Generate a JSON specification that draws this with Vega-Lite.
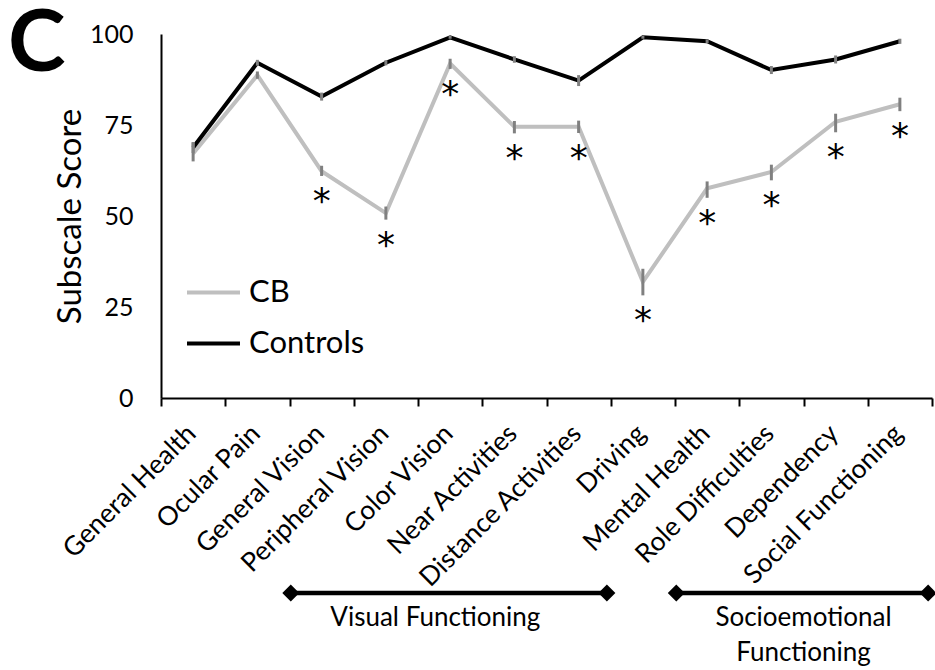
{
  "$schema": "https://vega.github.io/schema/vega-lite/v6.json",
  "width": 771,
  "height": 364,
  "autosize": {"type": "none"},
  "padding": {"left": 161, "top": 34, "right": 3, "bottom": 272},
  "title": {"text": "C", "anchor": "start", "frame": "group", "fontSize": 87, "fontWeight": "bold", "font": "Lato", "color": "black", "dx": -153, "dy": 12, "offset": -55, "baseline": "top"},
  "data": {"values": [
    {"category": "General Health", "group": "CB", "value": 67.2, "lo": 65.0, "hi": 70.2, "sig": ""},
    {"category": "Ocular Pain", "group": "CB", "value": 88.7, "lo": 87.7, "hi": 89.7, "sig": ""},
    {"category": "General Vision", "group": "CB", "value": 62.3, "lo": 61.0, "hi": 63.8, "sig": "*"},
    {"category": "Peripheral Vision", "group": "CB", "value": 50.8, "lo": 49.0, "hi": 52.6, "sig": "*"},
    {"category": "Color Vision", "group": "CB", "value": 91.9, "lo": 90.4, "hi": 93.2, "sig": "*"},
    {"category": "Near Activities", "group": "CB", "value": 74.5, "lo": 72.7, "hi": 76.1, "sig": "*"},
    {"category": "Distance Activities", "group": "CB", "value": 74.5, "lo": 72.8, "hi": 76.2, "sig": "*"},
    {"category": "Driving", "group": "CB", "value": 31.9, "lo": 28.2, "hi": 35.5, "sig": "*"},
    {"category": "Mental Health", "group": "CB", "value": 57.6, "lo": 55.0, "hi": 59.5, "sig": "*"},
    {"category": "Role Difficulties", "group": "CB", "value": 62.1, "lo": 59.8, "hi": 64.1, "sig": "*"},
    {"category": "Dependency", "group": "CB", "value": 75.9, "lo": 73.0, "hi": 78.1, "sig": "*"},
    {"category": "Social Functioning", "group": "CB", "value": 80.7, "lo": 78.8, "hi": 82.5, "sig": "*"},
    {"category": "General Health", "group": "Controls", "value": 68.8, "lo": 67.3, "hi": 70.3, "sig": ""},
    {"category": "Ocular Pain", "group": "Controls", "value": 92.1, "lo": 91.3, "hi": 92.9, "sig": ""},
    {"category": "General Vision", "group": "Controls", "value": 82.8, "lo": 81.7, "hi": 83.9, "sig": ""},
    {"category": "Peripheral Vision", "group": "Controls", "value": 92.1, "lo": 91.4, "hi": 92.8, "sig": ""},
    {"category": "Color Vision", "group": "Controls", "value": 99.1, "lo": 98.7, "hi": 99.5, "sig": ""},
    {"category": "Near Activities", "group": "Controls", "value": 93.0, "lo": 92.1, "hi": 93.9, "sig": ""},
    {"category": "Distance Activities", "group": "Controls", "value": 87.2, "lo": 85.7, "hi": 88.7, "sig": ""},
    {"category": "Driving", "group": "Controls", "value": 99.1, "lo": 98.7, "hi": 99.5, "sig": ""},
    {"category": "Mental Health", "group": "Controls", "value": 98.0, "lo": 97.5, "hi": 98.5, "sig": ""},
    {"category": "Role Difficulties", "group": "Controls", "value": 90.1, "lo": 89.0, "hi": 91.2, "sig": ""},
    {"category": "Dependency", "group": "Controls", "value": 93.0, "lo": 91.9, "hi": 94.1, "sig": ""},
    {"category": "Social Functioning", "group": "Controls", "value": 98.0, "lo": 97.3, "hi": 98.7, "sig": ""}
  ]},
  "layer": [
    {
      "mark": {"type": "line", "strokeWidth": 4},
      "encoding": {
        "x": {"field": "category", "type": "nominal", "bandPosition": 0.5,
              "scale": {"type": "band", "paddingInner": 0, "paddingOuter": 0, "domain": ["General Health", "Ocular Pain", "General Vision", "Peripheral Vision", "Color Vision", "Near Activities", "Distance Activities", "Driving", "Mental Health", "Role Difficulties", "Dependency", "Social Functioning"]},
              "axis": {"title": null, "tickBand": "extent", "ticks": true, "tickSize": 8, "tickWidth": 2, "tickColor": "black", "domainColor": "black", "domainWidth": 2, "labelAngle": -45, "labelAlign": "right", "labelBaseline": "top", "labelFontSize": 26.5, "labelPadding": 14, "labelOffset": -11, "labelLimit": 0, "labelColor": "black", "labelFont": "Lato"}},
        "y": {"field": "value", "type": "quantitative", "scale": {"domain": [0, 100], "nice": false, "zero": false},
              "axis": {"values": [0, 25, 50, 75, 100], "grid": false, "ticks": false, "domainColor": "black", "domainWidth": 2, "labelFontSize": 25, "labelPadding": 28, "labelColor": "black", "labelFont": "Lato", "title": "Subscale Score", "titleFontSize": 33, "titleFontWeight": "normal", "titleFont": "Lato", "titleColor": "black", "titlePadding": 2}},
        "color": {"field": "group", "type": "nominal", "scale": {"domain": ["CB", "Controls"], "range": ["#BFBFBF", "#000000"]},
                  "legend": {"title": null, "orient": "none", "legendX": 37, "legendY": 243, "labelFontSize": 31, "labelFont": "Lato", "labelColor": "black", "symbolType": "M-2,0H2", "symbolSize": 702, "symbolStrokeWidth": 4, "labelOffset": 20, "rowPadding": 19}}
      }
    },
    {
      "mark": {"type": "rule", "strokeWidth": 3, "color": "#808080"},
      "encoding": {
        "x": {"field": "category", "type": "nominal", "bandPosition": 0.5},
        "y": {"field": "lo", "type": "quantitative"},
        "y2": {"field": "hi"}
      }
    },
    {
      "transform": [{"filter": "datum.sig == '*'"}],
      "mark": {"type": "text", "font": "DejaVu Sans", "fontSize": 36, "color": "black", "baseline": "middle", "align": "center", "dy": 26},
      "encoding": {
        "x": {"field": "category", "type": "nominal", "bandPosition": 0.5},
        "y": {"field": "lo", "type": "quantitative"},
        "text": {"field": "sig"}
      }
    },
    {
      "data": {"values": [
        {"start": "General Vision", "end": "Distance Activities", "label": "Visual Functioning"},
        {"start": "Mental Health", "end": "Social Functioning", "label": "Socioemotional\nFunctioning"}
      ]},
      "layer": [
        {
          "mark": {"type": "rule", "strokeWidth": 4.5, "color": "black"},
          "encoding": {
            "x": {"field": "start", "type": "nominal", "bandPosition": 0.02},
            "x2": {"field": "end", "bandPosition": 0.94},
            "y": {"datum": -53.6, "type": "quantitative", "scale": {"domain": [0, 100]}}
          }
        },
        {
          "mark": {"type": "point", "shape": "diamond", "filled": true, "size": 289, "color": "black", "opacity": 1},
          "encoding": {
            "x": {"field": "start", "type": "nominal", "bandPosition": 0.02},
            "y": {"datum": -53.6, "type": "quantitative", "scale": {"domain": [0, 100]}}
          }
        },
        {
          "mark": {"type": "point", "shape": "diamond", "filled": true, "size": 289, "color": "black", "opacity": 1},
          "encoding": {
            "x": {"field": "end", "type": "nominal", "bandPosition": 0.94},
            "y": {"datum": -53.6, "type": "quantitative", "scale": {"domain": [0, 100]}}
          }
        }
      ]
    },
    {
      "data": {"values": [{"anchor": "Color Vision", "label": "Visual Functioning"}]},
      "mark": {"type": "text", "font": "Lato", "fontSize": 26, "color": "black", "baseline": "top", "align": "center"},
      "encoding": {
        "x": {"field": "anchor", "type": "nominal", "bandPosition": 0.27},
        "y": {"datum": -56.9, "type": "quantitative", "scale": {"domain": [0, 100]}},
        "text": {"field": "label"}
      }
    },
    {
      "data": {"values": [{"anchor": "Dependency", "label": "Socioemotional\nFunctioning"}]},
      "mark": {"type": "text", "font": "Lato", "fontSize": 26, "color": "black", "baseline": "top", "align": "center", "lineBreak": "\n", "lineHeight": 35},
      "encoding": {
        "x": {"field": "anchor", "type": "nominal", "bandPosition": 0.0},
        "y": {"datum": -56.9, "type": "quantitative", "scale": {"domain": [0, 100]}},
        "text": {"field": "label"}
      }
    }
  ],
  "config": {"view": {"stroke": null}, "font": "Lato"}
}
